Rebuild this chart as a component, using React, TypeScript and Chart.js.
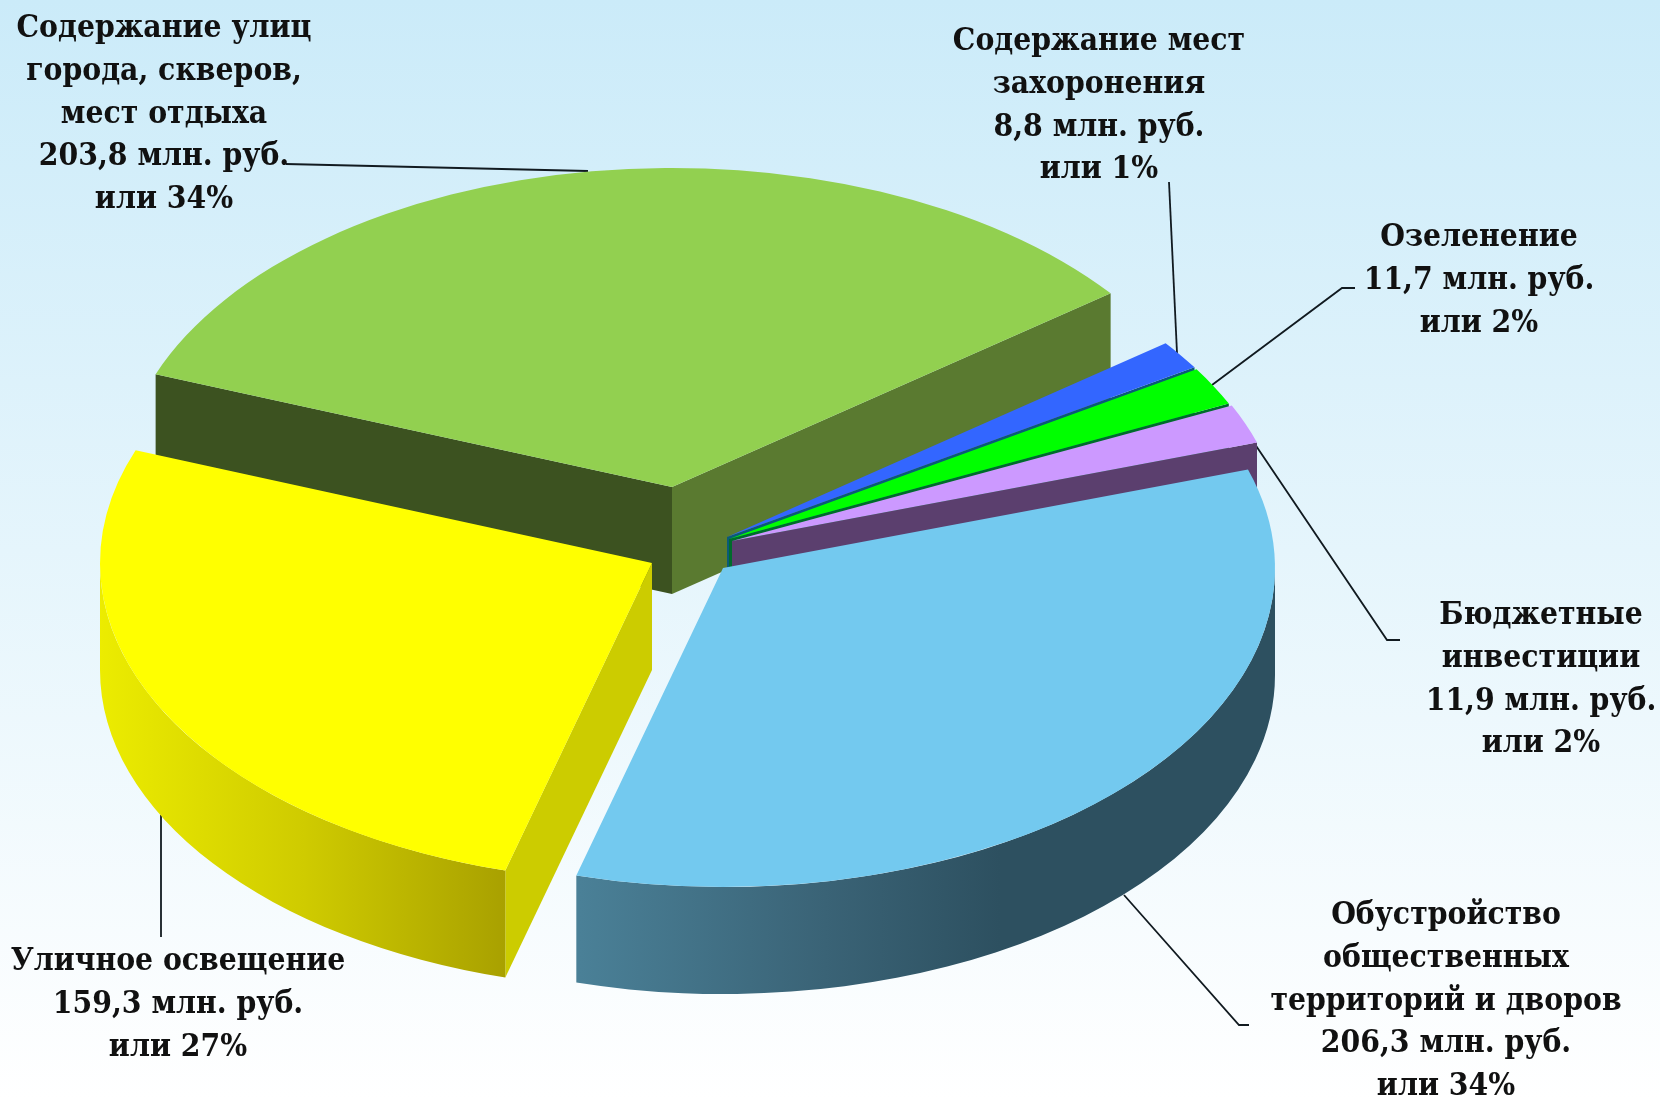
import React, { useEffect, useRef } from "react";
import { Chart, registerables } from "chart.js";

Chart.register(...registerables);

// ---- data ----
const categories = [
  "Обустройство общественных территорий и дворов",
  "Уличное освещение",
  "Содержание улиц города, скверов, мест отдыха",
  "Содержание мест захоронения",
  "Озеленение",
  "Бюджетные инвестиции",
];
const values = [206.3, 159.3, 203.8, 8.8, 11.7, 11.9];
const percents = [34, 27, 34, 1, 2, 2];
const nameLines = [
  ["Обустройство", "общественных", "территорий и дворов"],
  ["Уличное освещение"],
  ["Содержание улиц", "города, скверов,", "мест отдыха"],
  ["Содержание мест", "захоронения"],
  ["Озеленение"],
  ["Бюджетные", "инвестиции"],
];
const topColors = ["#73c9ef", "#ffff00", "#92d050", "#3366ff", "#00ff00", "#cc99ff"];

// ---- layout and style ----
const CX = 727, CY = 537, RADIUS = 552, SQUASH = 0.578, DEPTH = 107;
const FONT = "bold 31.5px 'DejaVu Serif Condensed', 'DejaVu Serif'";
const LINE_H = 42.7;
const shifts = [[-4, 31], [-75, 26], [-55, -50], [0, 0], [2, 2], [5, 4]];
const drawOrder = [2, 3, 4, 5, 0, 1];
const walls: any[] = [
  { outer: [[0, "#4a8097"], [0.35, "#3a6376"], [0.6, "#2d5060"], [1, "#2d5060"]], x0: 580, x1: 1280 },
  { start: "#cccc00", outer: [[0, "#a8a000"], [0.5, "#cfcb00"], [1, "#ecec00"]], x0: 509, x1: 100 },
  { start: "#3c5220", end: "#5a7a30" },
  { end: "#0b5a78" },
  { end: "#006b2c" },
  { end: "#5b3f6e" },
];
const labelPos = [
  { x: 1446, y: 916 },
  { x: 178, y: 962 },
  { x: 164, y: 29 },
  { x: 1099, y: 42 },
  { x: 1479, y: 238 },
  { x: 1541, y: 616 },
];
const leaders = [
  [[1124, 895], [1239, 1025], [1249, 1025]],
  [[161, 815], [161, 937]],
  [[286, 164], [588, 171]],
  [[1169, 182], [1177, 353]],
  [[1212, 385], [1342, 288], [1355, 288]],
  [[1240, 422], [1387, 640], [1400, 640]],
];

const pie3d = {
  id: "pie3d",
  beforeDraw(chart: any) {
    const { ctx, width, height } = chart;
    const g = ctx.createLinearGradient(0, 0, 0, height);
    g.addColorStop(0, "#cbebf9");
    g.addColorStop(1, "#ffffff");
    ctx.save();
    ctx.fillStyle = g;
    ctx.fillRect(0, 0, width, height);
    ctx.restore();
  },
  beforeDatasetsDraw(chart: any) {
    const { ctx } = chart;
    const arcs = chart.getDatasetMeta(0).data;
    // leader lines sit under the slices
    ctx.save();
    ctx.strokeStyle = "#111a20";
    ctx.lineWidth = 1.8;
    leaders.forEach((pts) => {
      ctx.beginPath();
      pts.forEach((p, i) => (i ? ctx.lineTo(p[0], p[1]) : ctx.moveTo(p[0], p[1])));
      ctx.stroke();
    });
    ctx.restore();

    drawOrder.forEach((i) => {
      const el = arcs[i];
      const w = walls[i];
      const ox = CX + shifts[i][0];
      const oy = CY + shifts[i][1];
      const r = el.outerRadius;
      const a0 = el.startAngle;
      const a1 = el.endAngle;
      const edge = (a: number, color: string) => {
        const ex = ox + r * Math.cos(a);
        const ey = oy + SQUASH * r * Math.sin(a);
        ctx.fillStyle = color;
        ctx.beginPath();
        ctx.moveTo(ox, oy);
        ctx.lineTo(ex, ey);
        ctx.lineTo(ex, ey + DEPTH);
        ctx.lineTo(ox, oy + DEPTH);
        ctx.closePath();
        ctx.fill();
      };
      ctx.save();
      if (w.start) edge(a0, w.start);
      if (w.end) edge(a1, w.end);
      if (w.outer) {
        const from = Math.max(a0, 0);
        const to = Math.min(a1, Math.PI);
        const g = ctx.createLinearGradient(w.x0, 0, w.x1, 0);
        w.outer.forEach((s: any) => g.addColorStop(s[0], s[1]));
        ctx.fillStyle = g;
        ctx.beginPath();
        ctx.ellipse(ox, oy, r, SQUASH * r, 0, from, to, false);
        ctx.ellipse(ox, oy + DEPTH, r, SQUASH * r, 0, to, from, true);
        ctx.closePath();
        ctx.fill();
      }
      ctx.restore();

      ctx.save();
      ctx.translate(ox, oy);
      ctx.scale(1, SQUASH);
      ctx.translate(-el.x, -el.y);
      el.draw(ctx);
      ctx.restore();
    });
    return false;
  },
  afterDraw(chart: any) {
    const { ctx } = chart;
    ctx.save();
    ctx.font = FONT;
    ctx.fillStyle = "#111111";
    ctx.textAlign = "center";
    ctx.textBaseline = "middle";
    categories.forEach((_, i) => {
      const lines = [
        ...nameLines[i],
        `${values[i].toFixed(1).replace(".", ",")} млн. руб.`,
        `или ${percents[i]}%`,
      ];
      lines.forEach((t, k) => ctx.fillText(t, labelPos[i].x, labelPos[i].y + k * LINE_H));
    });
    ctx.restore();
  },
};

export default function App() {
  const ref = useRef<HTMLCanvasElement>(null);
  useEffect(() => {
    const chart = new Chart(ref.current as HTMLCanvasElement, {
      type: "pie",
      data: {
        labels: categories,
        datasets: [{ data: values, backgroundColor: topColors, borderWidth: 0 }],
      },
      options: {
        animation: false,
        responsive: false,
        rotation: 72,
        radius: RADIUS,
        plugins: { legend: { display: false }, tooltip: { enabled: false } },
      } as any,
      plugins: [pie3d as any],
    });
    return () => chart.destroy();
  }, []);
  return (
    <div style={{ position: "absolute", left: 0, top: 0, width: 1660, height: 1100 }}>
      <canvas ref={ref} width={1660} height={1100} style={{ display: "block" }} />
    </div>
  );
}
